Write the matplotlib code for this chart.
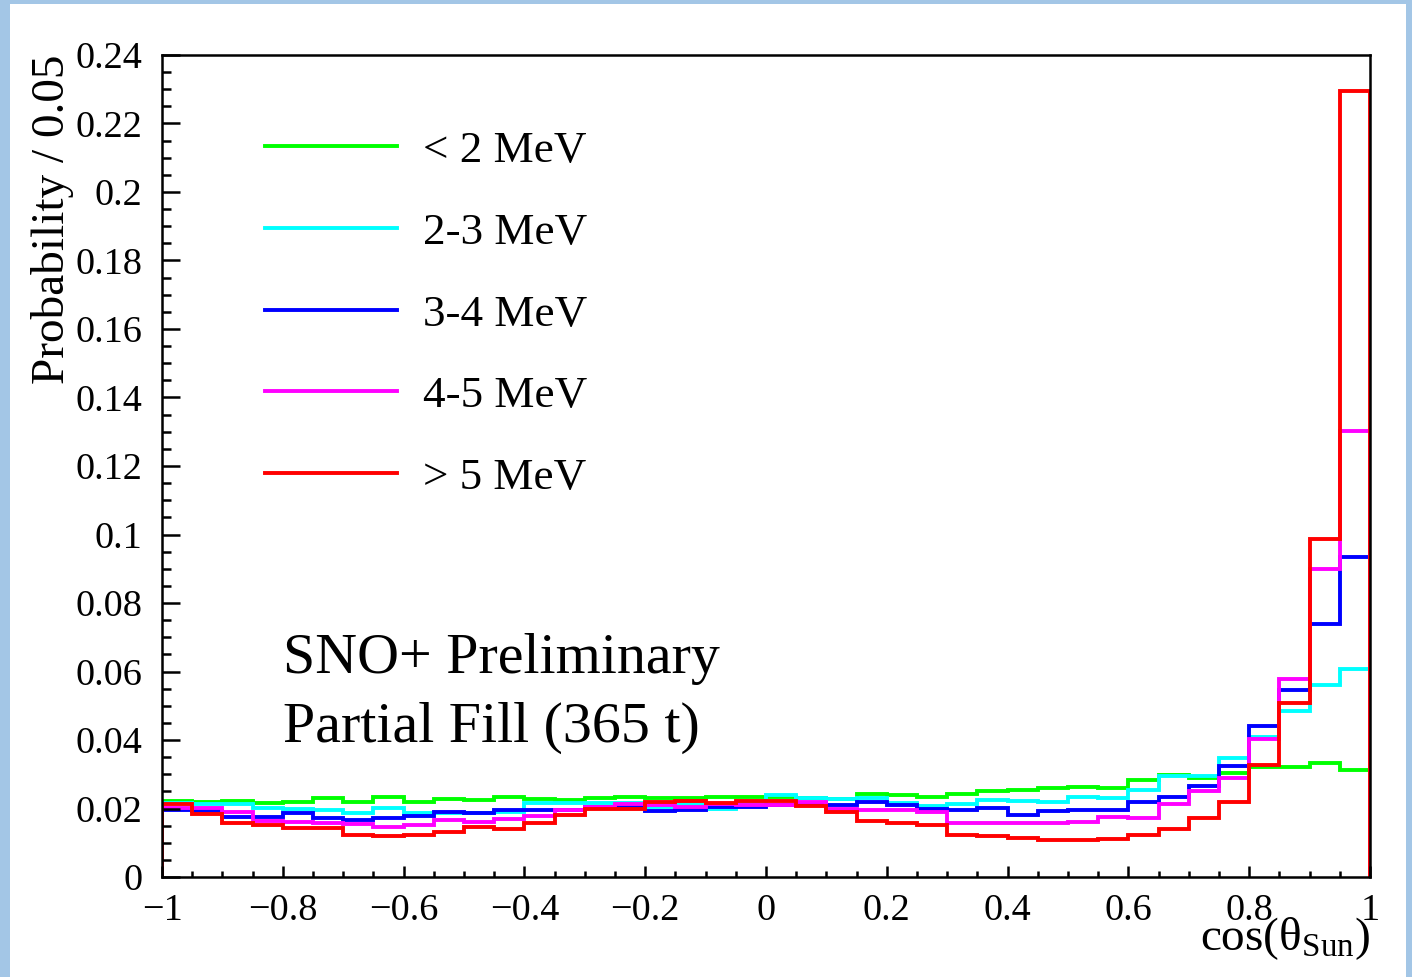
import numpy as np
import matplotlib
matplotlib.use("Agg")
import matplotlib.pyplot as plt
from matplotlib.patches import Rectangle
from matplotlib.ticker import MultipleLocator

plt.rcParams['font.family'] = ['Liberation Serif', 'DejaVu Serif']
plt.rcParams['mathtext.fontset'] = 'custom'
plt.rcParams['mathtext.rm'] = 'Liberation Serif'
plt.rcParams['mathtext.it'] = 'Liberation Serif:italic'

# 40 bins of cos(theta_sun), width 0.05
bin_edges = np.linspace(-1, 1, 41)

lt2 = [0.0223, 0.0218, 0.0223, 0.0216, 0.0220, 0.0231, 0.0220, 0.0233, 0.0220, 0.0227,
       0.0226, 0.0233, 0.0227, 0.0226, 0.0230, 0.0235, 0.0230, 0.0232, 0.0235, 0.0233,
       0.0235, 0.0232, 0.0228, 0.0242, 0.0239, 0.0235, 0.0241, 0.0252, 0.0254, 0.0259,
       0.0263, 0.0259, 0.0282, 0.0298, 0.0290, 0.0303, 0.0320, 0.0320, 0.0334, 0.0311]
e2_3 = [0.0215, 0.0214, 0.0212, 0.0201, 0.0198, 0.0196, 0.0188, 0.0202, 0.0188, 0.0186,
        0.0186, 0.0191, 0.0215, 0.0215, 0.0216, 0.0216, 0.0203, 0.0212, 0.0200, 0.0215,
        0.0239, 0.0230, 0.0227, 0.0232, 0.0215, 0.0208, 0.0213, 0.0224, 0.0221, 0.0218,
        0.0235, 0.0232, 0.0253, 0.0296, 0.0296, 0.0346, 0.0410, 0.0486, 0.0562, 0.0606]
e3_4 = [0.0197, 0.0193, 0.0176, 0.0174, 0.0188, 0.0171, 0.0167, 0.0173, 0.0178, 0.0190,
        0.0188, 0.0197, 0.0196, 0.0197, 0.0205, 0.0207, 0.0192, 0.0197, 0.0203, 0.0205,
        0.0210, 0.0215, 0.0210, 0.0219, 0.0211, 0.0200, 0.0197, 0.0201, 0.0182, 0.0192,
        0.0195, 0.0195, 0.0218, 0.0234, 0.0266, 0.0325, 0.0440, 0.0545, 0.0738, 0.0935]
e4_5 = [0.0202, 0.0202, 0.0189, 0.0163, 0.0160, 0.0159, 0.0155, 0.0147, 0.0153, 0.0167,
        0.0162, 0.0170, 0.0178, 0.0195, 0.0204, 0.0212, 0.0211, 0.0203, 0.0212, 0.0211,
        0.0210, 0.0218, 0.0200, 0.0197, 0.0196, 0.0189, 0.0159, 0.0157, 0.0157, 0.0157,
        0.0162, 0.0176, 0.0173, 0.0212, 0.0252, 0.0290, 0.0402, 0.0578, 0.0898, 0.1302]
gt5 = [0.0212, 0.0183, 0.0158, 0.0151, 0.0144, 0.0143, 0.0122, 0.0121, 0.0124, 0.0130,
       0.0147, 0.0140, 0.0159, 0.0180, 0.0198, 0.0200, 0.0219, 0.0222, 0.0215, 0.0222,
       0.0223, 0.0206, 0.0189, 0.0163, 0.0157, 0.0151, 0.0124, 0.0120, 0.0113, 0.0109,
       0.0109, 0.0110, 0.0123, 0.0140, 0.0173, 0.0218, 0.0327, 0.0509, 0.0986, 0.2295]

series = [lt2, e2_3, e3_4, e4_5, gt5]
labels = ['< 2 MeV', '2-3 MeV', '3-4 MeV', '4-5 MeV', '> 5 MeV']
colors = ['#00ff00', '#00ffff', '#0000ff', '#ff00ff', '#ff0000']

x_ticks = [-1, -0.8, -0.6, -0.4, -0.2, 0, 0.2, 0.4, 0.6, 0.8, 1]
x_ticklabels = ['\u22121', '\u22120.8', '\u22120.6', '\u22120.4', '\u22120.2', '0',
                '0.2', '0.4', '0.6', '0.8', '1']
y_ticks = [0, 0.02, 0.04, 0.06, 0.08, 0.1, 0.12, 0.14, 0.16, 0.18, 0.2, 0.22, 0.24]
y_ticklabels = ['0', '0.02', '0.04', '0.06', '0.08', '0.1', '0.12', '0.14', '0.16',
                '0.18', '0.2', '0.22', '0.24']

fig = plt.figure(figsize=(14.12, 9.77), dpi=100)
fig.patch.set_facecolor('#a3c6e6')
# white slide panel
fig.add_artist(Rectangle((10 / 1412, 0), 1396 / 1412, 973 / 977,
                         transform=fig.transFigure, facecolor='white',
                         edgecolor='none', zorder=0))

ax = fig.add_axes([162 / 1412, 1 - 877 / 977, 1208 / 1412, 822 / 977])
ax.set_facecolor('white')

for vals, lab, col in zip(series, labels, colors):
    ax.stairs(vals, bin_edges, baseline=0, color=col, linewidth=2.8, label=lab)

ax.set_xlim(-1, 1)
ax.set_ylim(0, 0.24)

ax.set_xticks(x_ticks)
ax.set_xticklabels(x_ticklabels)
ax.set_yticks(y_ticks)
ax.set_yticklabels(y_ticklabels)
ax.xaxis.set_minor_locator(MultipleLocator(0.05))
ax.yaxis.set_minor_locator(MultipleLocator(0.005))

for s in ax.spines.values():
    s.set_linewidth(1.8)
    s.set_zorder(3)
ax.tick_params(axis='both', which='both', direction='in', width=1.8,
               top=False, right=False, labelsize=27.5)
ax.tick_params(axis='x', which='major', length=8, pad=12)
ax.tick_params(axis='x', which='minor', length=4)
ax.tick_params(axis='y', which='major', length=13, pad=14)
ax.tick_params(axis='y', which='minor', length=6.5)

ax.text(-0.091, 1.0, 'Probability / 0.05', rotation=90, ha='center', va='top',
        fontsize=34, transform=ax.transAxes)
ax.text(1.0, -0.089, 'cos(\u03b8$_{\\mathrm{Sun}}$)', ha='right', va='baseline',
        fontsize=34, transform=ax.transAxes)

ax.text(0.100, 0.248, 'SNO+ Preliminary', fontsize=41.8, transform=ax.transAxes,
        va='baseline')
ax.text(0.100, 0.165, 'Partial Fill (365 t)', fontsize=41.8, transform=ax.transAxes,
        va='baseline')

ax.legend(loc='upper left', bbox_to_anchor=(0.085, 0.908), frameon=False,
          fontsize=32.5, handlelength=2.93, handletextpad=0.58,
          labelspacing=0.91, borderpad=0, borderaxespad=0)

fig.savefig('out.png', dpi=100, facecolor=fig.get_facecolor())
